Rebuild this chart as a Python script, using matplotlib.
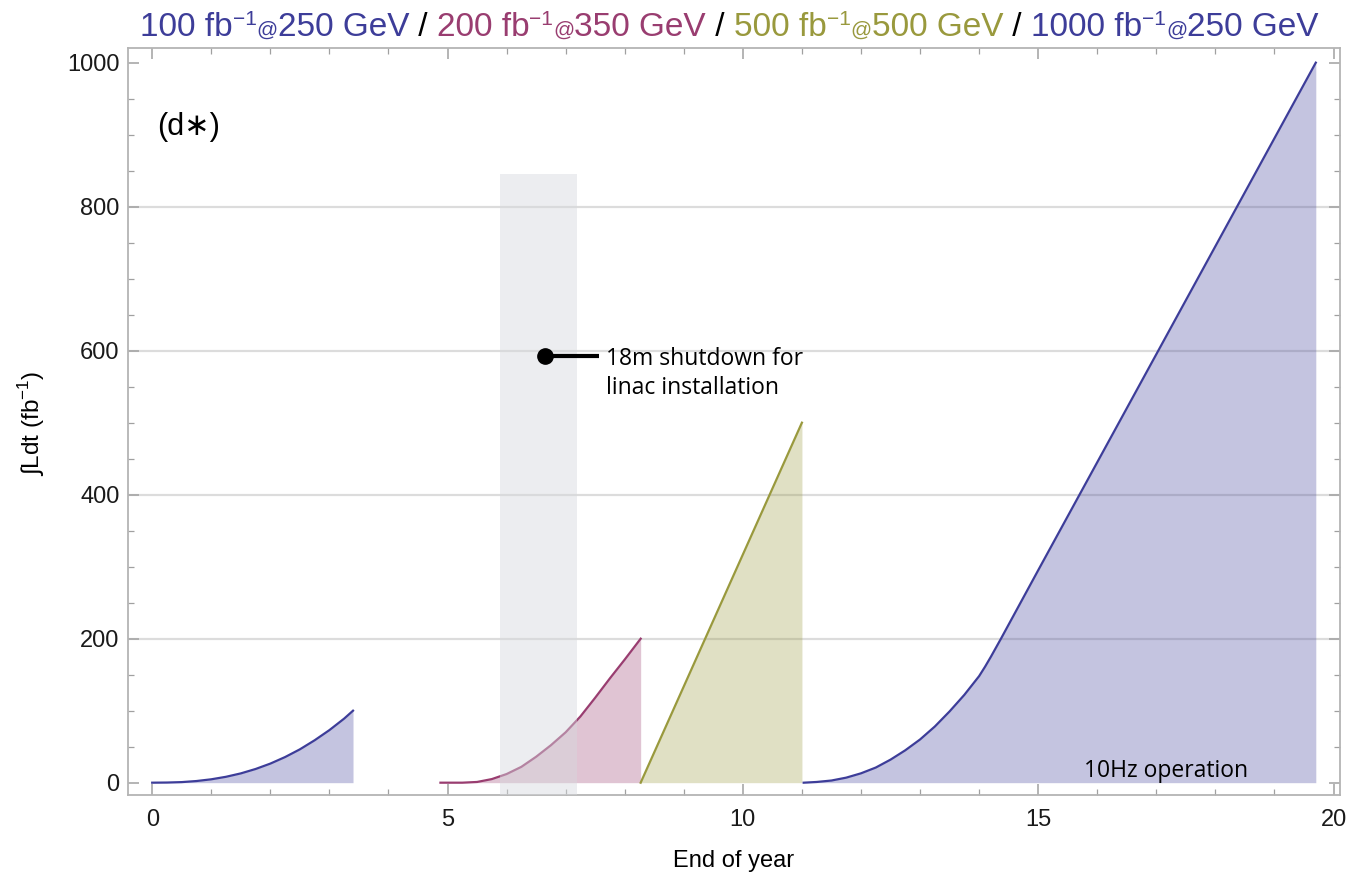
import numpy as np
import matplotlib
matplotlib.use("Agg")
import matplotlib.pyplot as plt
from matplotlib.ticker import MultipleLocator

plt.rcParams['font.family'] = ['Liberation Sans', 'DejaVu Sans']
plt.rcParams['mathtext.fontset'] = 'custom'
plt.rcParams['mathtext.rm'] = 'Liberation Sans'

# integrated luminosity per run stage (year, fb^-1)
run1_year = [0.0, 0.25, 0.5, 0.75, 1.0, 1.25, 1.5, 1.75, 2.0, 2.25, 2.5, 2.75, 3.0, 3.25, 3.4]
run1_lumi = [0, 0.2, 0.8, 2.3, 4.7, 8.2, 12.9, 19, 26.5, 35.6, 46.3, 58.9, 73, 89, 100]

run2_year = [4.88, 5.0, 5.25, 5.5, 5.75, 6.0, 6.25, 6.5, 6.75, 7.0, 7.25, 7.5, 7.75, 8.0, 8.27]
run2_lumi = [0, 0, 0, 1, 5, 12, 22, 36, 52, 70, 92, 118, 145, 171, 200]

run3_year = [8.27, 11.0]
run3_lumi = [0, 500]

run4_year = [11.03, 11.25, 11.5, 11.75, 12.0, 12.25, 12.5, 12.75, 13.0, 13.25, 13.5,
             13.75, 14.0, 14.1, 14.2, 14.37, 15.0, 16.0, 17.0, 18.0, 19.0, 19.7]
run4_lumi = [0, 1, 3, 7, 13, 21, 32, 45, 60, 78, 99, 122, 148, 161, 175, 200, 295, 445, 595, 745, 895, 1000]

runs = [(run1_year, run1_lumi), (run2_year, run2_lumi), (run3_year, run3_lumi), (run4_year, run4_lumi)]

blue = '#3D3D99'
pink = '#993D70'
olive = '#99993D'
run_colors = [blue, pink, olive, blue]

shutdown_start, shutdown_end, shutdown_top = 5.89, 7.19, 845
grid_levels = [200, 400, 600, 800]

W, H = 1350, 877
fig = plt.figure(figsize=(W / 100, H / 100), dpi=100)
ax = fig.add_axes([0.0948, 0.0935, 0.8978, 0.8518])
xmin, xmax = -0.41, 20.11
ymin, ymax = -17.1, 1020.4

for lvl in grid_levels:
    ax.axhline(lvl, color='#DCDCDC', lw=1.6, zorder=0)

for (yr, lumi), c in zip(runs, run_colors):
    ax.fill_between(yr, 0, lumi, color=c, alpha=0.3, lw=0, zorder=1)
    ax.plot(yr, lumi, color=c, lw=1.6, zorder=2)

# shutdown period drawn over the curves
ax.fill_between([shutdown_start, shutdown_end], ymin, shutdown_top,
                color='#D6D9DE', alpha=0.45, lw=0, zorder=3)

note_font = ['Open Sans', 'DejaVu Sans']
ax.plot([6.65, 7.57], [592, 592], color='black', lw=3, zorder=5, solid_capstyle='butt')
ax.plot([6.65], [592], 'o', color='black', ms=11, zorder=6)
ax.text(7.69, 568, '18m shutdown for\nlinac installation', fontsize=16.5,
        family=note_font, va='center', ha='left', linespacing=1.25, zorder=6)
ax.text(15.78, 8, '10Hz operation', fontsize=16.5, family=note_font,
        va='baseline', ha='left', zorder=6)

ax.text(0.08, 911, '(d\u2217)', fontsize=22, va='center', ha='left')

ax.set_xlim(xmin, xmax)
ax.set_ylim(ymin, ymax)
ax.xaxis.set_major_locator(MultipleLocator(5))
ax.xaxis.set_minor_locator(MultipleLocator(1))
ax.yaxis.set_major_locator(MultipleLocator(200))
ax.yaxis.set_minor_locator(MultipleLocator(50))
ax.tick_params(which='both', direction='in', top=True, right=True, color='#A0A0A0',
               labelsize=17, labelcolor='#1A1A1A')
ax.tick_params(which='major', length=8, width=1.1)
ax.tick_params(which='minor', length=4, width=0.9)
ax.tick_params(axis='x', pad=10)
ax.tick_params(axis='y', pad=6)
for sp in ax.spines.values():
    sp.set_color('#B4B4B4')
    sp.set_linewidth(1.3)

ax.set_xlabel('End of year', fontsize=17, labelpad=14)
fig.text(32 / W, 1 - 423 / H, '\u222bLdt (fb$^{-1}$)', rotation=90,
         fontsize=17.5, va='center', ha='center')

# coloured title, laid out piece by piece along one baseline
title_parts = [
    ('100 fb', blue, 24, 0), ('\u22121', blue, 15, 11), ('@', blue, 15, 0), ('250 GeV', blue, 24, 0),
    (' / ', 'black', 24, 0),
    ('200 fb', pink, 24, 0), ('\u22121', pink, 15, 11), ('@', pink, 15, 0), ('350 GeV', pink, 24, 0),
    (' / ', 'black', 24, 0),
    ('500 fb', olive, 24, 0), ('\u22121', olive, 15, 11), ('@', olive, 15, 0), ('500 GeV', olive, 24, 0),
    (' / ', 'black', 24, 0),
    ('1000 fb', blue, 24, 0), ('\u22121', blue, 15, 11), ('@', blue, 15, 0), ('250 GeV', blue, 24, 0),
]
fig.canvas.draw()
renderer = fig.canvas.get_renderer()
x_px, base_px = 140, 36
for s, c, fs, rise in title_parts:
    t = fig.text(x_px / W, 1 - (base_px - rise) / H, s, color=c, fontsize=fs,
                 va='baseline', ha='left')
    x_px += t.get_window_extent(renderer).width

fig.savefig('out.png', dpi=100)
